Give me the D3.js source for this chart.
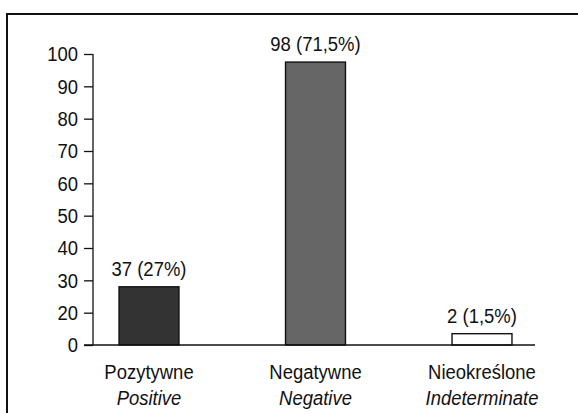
<!DOCTYPE html>
<html>
<head>
<meta charset="utf-8">
<script src="https://cdn.jsdelivr.net/npm/d3@7/dist/d3.min.js"></script>
<style>
  html, body { margin: 0; padding: 0; background: #fff; }
  svg { display: block; }
  text { font-family: "Liberation Sans", Arial, sans-serif; fill: #111; }
</style>
</head>
<body>
<svg id="chart" width="578" height="413"></svg>
<script>
// ---- data ----
const categories   = ["Pozytywne", "Negatywne", "Nieokreślone"];
const categoriesEn = ["Positive", "Negative", "Indeterminate"];
const counts       = [37, 98, 2];
const percents     = ["27%", "71,5%", "1,5%"];
// bar heights as drawn against the printed axis
const barHeights   = [28, 97.5, 13.5];
const barFills     = ["#333333", "#666666", "#ffffff"];
// printed axis: evenly spaced ticks, "10" omitted (bottom tick printed as "0")
const yTickValues  = [10, 20, 30, 40, 50, 60, 70, 80, 90, 100];
const yTickLabels  = ["0", "20", "30", "40", "50", "60", "70", "80", "90", "100"];

const svg = d3.select("#chart");
const W = 578, H = 413;
const fontSize = 21;
const sx = 0.88; // condensed look

// frame
svg.append("path")
  .attr("d", `M7,${H + 2} L7,14 L${W + 2},14`)
  .attr("fill", "none").attr("stroke", "#111").attr("stroke-width", 2);

const axisX = 93, baseY = 345, topY = 54;
const y = d3.scaleLinear().domain([10, 100]).range([baseY, topY]);
const x = d3.scaleBand().domain(categories).range([65.75, 565.25])
  .paddingInner(0.64).paddingOuter(0.32);

// y axis
const yAxis = d3.axisLeft(y).tickValues(yTickValues)
  .tickFormat((d, i) => yTickLabels[i]).tickSize(9).tickPadding(6);
const gy = svg.append("g").attr("transform", `translate(${axisX},0)`).call(yAxis);
gy.select(".domain").remove();
gy.selectAll(".tick line").attr("stroke", "#111").attr("stroke-width", 1.3);
gy.selectAll(".tick text")
  .style("font-size", fontSize + "px")
  .style("font-family", "'Liberation Sans', Arial, sans-serif")
  .attr("fill", "#111")
  .attr("x", -15 / sx)
  .attr("transform", `scale(${sx},1)`);
svg.append("line").attr("x1", axisX).attr("x2", axisX).attr("y1", topY).attr("y2", baseY)
  .attr("stroke", "#111").attr("stroke-width", 1.3);

// bars
svg.selectAll("rect.bar").data(categories).enter().append("rect")
  .attr("class", "bar")
  .attr("x", d => x(d))
  .attr("width", x.bandwidth())
  .attr("y", (d, i) => y(barHeights[i]))
  .attr("height", (d, i) => baseY - y(barHeights[i]))
  .attr("fill", (d, i) => barFills[i])
  .attr("stroke", "#111").attr("stroke-width", 1.4);

// x axis line
svg.append("line").attr("x1", 84).attr("x2", 535).attr("y1", baseY).attr("y2", baseY)
  .attr("stroke", "#111").attr("stroke-width", 1.3);

const cx = d => x(d) + x.bandwidth() / 2;

// value labels
svg.selectAll("text.val").data(categories).enter().append("text")
  .attr("class", "val")
  .attr("transform", (d, i) => `translate(${cx(d)},${y(barHeights[i]) - 11}) scale(${sx},1)`)
  .attr("text-anchor", "middle")
  .style("font-size", fontSize + "px")
  .text((d, i) => `${counts[i]} (${percents[i]})`);

// category labels
svg.selectAll("text.cat").data(categories).enter().append("text")
  .attr("class", "cat")
  .attr("transform", d => `translate(${cx(d)},379) scale(${sx},1)`)
  .attr("text-anchor", "middle")
  .style("font-size", fontSize + "px")
  .text(d => d);
svg.selectAll("text.caten").data(categories).enter().append("text")
  .attr("class", "caten")
  .attr("transform", d => `translate(${cx(d)},405) scale(${sx},1)`)
  .attr("text-anchor", "middle")
  .style("font-size", fontSize + "px")
  .style("font-style", "italic")
  .text((d, i) => categoriesEn[i]);
</script>
</body>
</html>
